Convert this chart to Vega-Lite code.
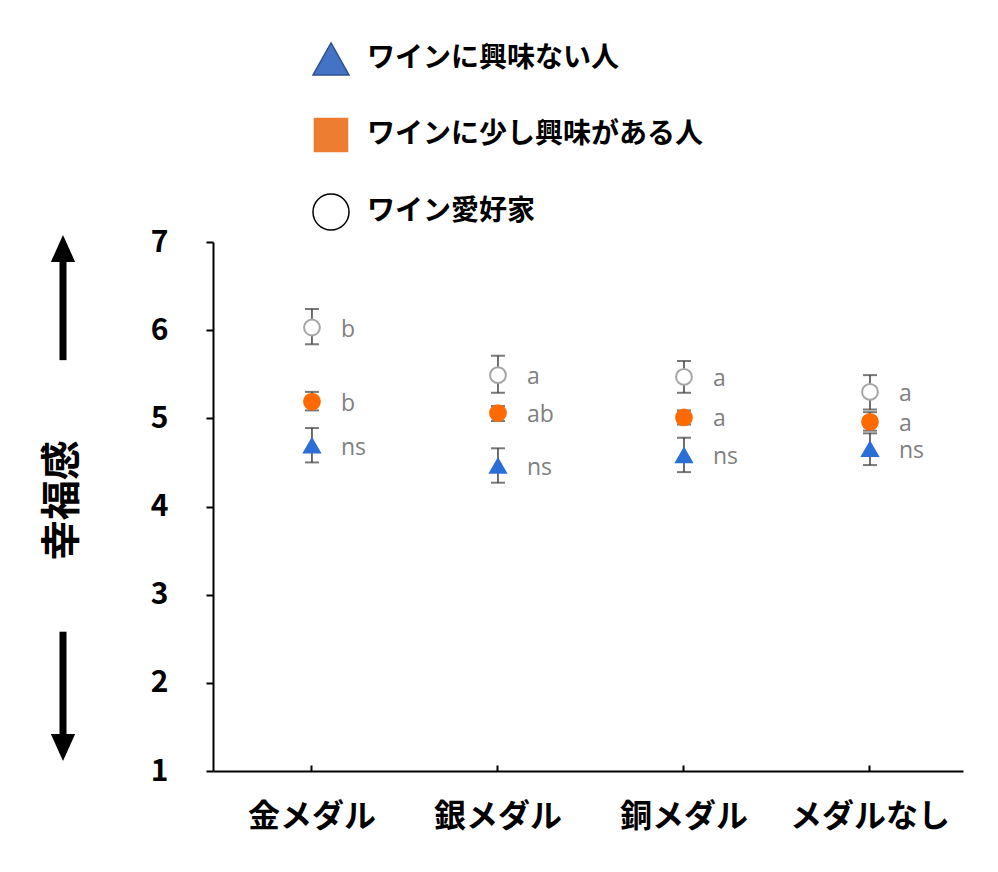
{
  "$schema": "https://vega.github.io/schema/vega-lite/v6.json",
  "width": 750,
  "height": 529,
  "autosize": {"type": "none"},
  "padding": {"left": 213, "top": 242, "right": 35, "bottom": 101},
  "background": "white",
  "config": {
    "view": {"stroke": null},
    "font": "Noto Sans CJK JP",
    "axis": {"domainColor": "#000000", "domainWidth": 2, "tickColor": "#000000", "tickWidth": 2, "grid": false, "labelColor": "#000000", "labelFont": "Noto Sans CJK JP", "labelFontWeight": "bold"}
  },
  "layer": [
    {
      "data": {
        "values": [
          {"medal": "金メダル", "group": "ワイン愛好家", "mean": 6.03, "lo": 5.84, "hi": 6.24, "sig": "b"},
          {"medal": "金メダル", "group": "ワインに少し興味がある人", "mean": 5.19, "lo": 5.09, "hi": 5.3, "sig": "b"},
          {"medal": "金メダル", "group": "ワインに興味ない人", "mean": 4.69, "lo": 4.5, "hi": 4.89, "sig": "ns"},
          {"medal": "銀メダル", "group": "ワイン愛好家", "mean": 5.49, "lo": 5.29, "hi": 5.71, "sig": "a"},
          {"medal": "銀メダル", "group": "ワインに少し興味がある人", "mean": 5.06, "lo": 4.97, "hi": 5.14, "sig": "ab"},
          {"medal": "銀メダル", "group": "ワインに興味ない人", "mean": 4.46, "lo": 4.27, "hi": 4.66, "sig": "ns"},
          {"medal": "銅メダル", "group": "ワイン愛好家", "mean": 5.47, "lo": 5.29, "hi": 5.65, "sig": "a"},
          {"medal": "銅メダル", "group": "ワインに少し興味がある人", "mean": 5.01, "lo": 4.93, "hi": 5.09, "sig": "a"},
          {"medal": "銅メダル", "group": "ワインに興味ない人", "mean": 4.58, "lo": 4.39, "hi": 4.78, "sig": "ns"},
          {"medal": "メダルなし", "group": "ワイン愛好家", "mean": 5.3, "lo": 5.1, "hi": 5.49, "sig": "a"},
          {"medal": "メダルなし", "group": "ワインに少し興味がある人", "mean": 4.96, "lo": 4.86, "hi": 5.07, "sig": "a"},
          {"medal": "メダルなし", "group": "ワインに興味ない人", "mean": 4.65, "lo": 4.47, "hi": 4.83, "sig": "ns"}
        ]
      },
      "encoding": {
        "x": {
          "field": "medal", "type": "nominal", "sort": null, "title": null,
          "scale": {"type": "band", "paddingInner": 0, "paddingOuter": 0.016, "align": 1},
          "axis": {"labelAngle": 0, "labelFontSize": 32, "tickSize": -6, "labelPadding": 36}
        },
        "y": {
          "type": "quantitative", "title": null,
          "scale": {"domain": [1, 7], "nice": false, "zero": false},
          "axis": {"values": [1, 2, 3, 4, 5, 6, 7], "format": "d", "labelFontSize": 30, "tickSize": 7, "labelPadding": 38}
        }
      },
      "layer": [
        {"mark": {"type": "rule", "color": "#404040", "strokeWidth": 1.5}, "encoding": {"y": {"field": "lo", "type": "quantitative"}, "y2": {"field": "hi"}}},
        {"mark": {"type": "tick", "color": "#404040", "thickness": 2, "size": 14}, "encoding": {"y": {"field": "lo", "type": "quantitative"}}},
        {"mark": {"type": "tick", "color": "#404040", "thickness": 2, "size": 14}, "encoding": {"y": {"field": "hi", "type": "quantitative"}}},
        {
          "mark": {"type": "point", "filled": false, "strokeWidth": 2, "opacity": 1},
          "encoding": {
            "y": {"field": "mean", "type": "quantitative"},
            "shape": {
              "field": "group", "type": "nominal", "legend": null,
              "scale": {"domain": ["ワインに興味ない人", "ワインに少し興味がある人", "ワイン愛好家"], "range": ["triangle-up", "circle", "circle"]}
            },
            "fill": {
              "field": "group", "type": "nominal", "legend": null,
              "scale": {"domain": ["ワインに興味ない人", "ワインに少し興味がある人", "ワイン愛好家"], "range": ["#2B6FD6", "#FF6A00", "#FFFFFF"]}
            },
            "stroke": {
              "field": "group", "type": "nominal", "legend": null,
              "scale": {"domain": ["ワインに興味ない人", "ワインに少し興味がある人", "ワイン愛好家"], "range": ["#2B6FD6", "#FF6A00", "#A6A6A6"]}
            },
            "size": {"value": 250}
          }
        },
        {
          "mark": {"type": "text", "align": "left", "baseline": "middle", "dx": 29, "dy": 2, "font": "Open Sans", "fontSize": 23, "color": "#808080"},
          "encoding": {"y": {"field": "mean", "type": "quantitative"}, "text": {"field": "sig"}}
        }
      ]
    },
    {
      "data": {
        "values": [
          {"group": "ワインに興味ない人"},
          {"group": "ワインに少し興味がある人"},
          {"group": "ワイン愛好家"}
        ]
      },
      "mark": {"type": "point", "filled": true, "opacity": 0, "strokeWidth": 1.5},
      "encoding": {
        "shape": {
          "field": "group", "type": "nominal",
          "scale": {"domain": ["ワインに興味ない人", "ワインに少し興味がある人", "ワイン愛好家"], "range": ["M0,-0.89L1,0.89L-1,0.89Z", "M-0.92,-0.92L0.92,-0.92L0.92,0.92L-0.92,0.92Z", "M1,0A1,1,0,1,1,-1,0A1,1,0,1,1,1,0Z"]},
          "legend": {
            "title": null, "orient": "none", "legendX": 99, "legendY": -202, "padding": 0,
            "symbolSize": 1296, "symbolOpacity": 1, "symbolStrokeWidth": 1.5, "rowPadding": 36, "labelOffset": 17, "labelLimit": 600,
            "labelFont": "Noto Sans CJK JP", "labelFontSize": 28, "labelFontWeight": "bold", "labelColor": "#000000"
          }
        },
        "fill": {
          "field": "group", "type": "nominal",
          "scale": {"domain": ["ワインに興味ない人", "ワインに少し興味がある人", "ワイン愛好家"], "range": ["#4472C4", "#ED7D31", "#FFFFFF"]}
        },
        "stroke": {
          "field": "group", "type": "nominal",
          "scale": {"domain": ["ワインに興味ない人", "ワインに少し興味がある人", "ワイン愛好家"], "range": ["#2F528F", "#ED7D31", "#000000"]}
        }
      }
    },
    {
      "data": {
        "values": [
          {"ax": -0.2, "from": 5.66, "to": 6.8, "head": 6.926, "dir": "up"},
          {"ax": -0.2, "from": 2.58, "to": 1.36, "head": 1.266, "dir": "down"}
        ]
      },
      "encoding": {
        "x": {"field": "ax", "type": "quantitative", "scale": {"domain": [0, 1]}, "axis": null}
      },
      "layer": [
        {"mark": {"type": "rule", "color": "#000000", "strokeWidth": 7}, "encoding": {"y": {"field": "from", "type": "quantitative"}, "y2": {"field": "to"}}},
        {
          "mark": {"type": "point", "filled": true, "color": "#000000", "opacity": 1, "size": 729},
          "encoding": {
            "y": {"field": "head", "type": "quantitative"},
            "shape": {"field": "dir", "type": "nominal", "legend": null, "scale": {"domain": ["up", "down"], "range": ["M0,-1L0.9,1L-0.9,1Z", "M0,1L0.9,-1L-0.9,-1Z"]}}
          }
        }
      ]
    },
    {
      "data": {"values": [{"ax": -0.2, "pos": 4.07, "label": "幸福感"}]},
      "mark": {"type": "text", "angle": 270, "align": "center", "baseline": "middle", "font": "Noto Sans CJK JP", "fontSize": 40, "fontWeight": "bold", "color": "#000000"},
      "encoding": {
        "x": {"field": "ax", "type": "quantitative", "scale": {"domain": [0, 1]}, "axis": null},
        "y": {"field": "pos", "type": "quantitative"},
        "text": {"field": "label"}
      }
    }
  ],
  "resolve": {"scale": {"x": "independent", "shape": "independent", "fill": "independent", "stroke": "independent"}}
}
